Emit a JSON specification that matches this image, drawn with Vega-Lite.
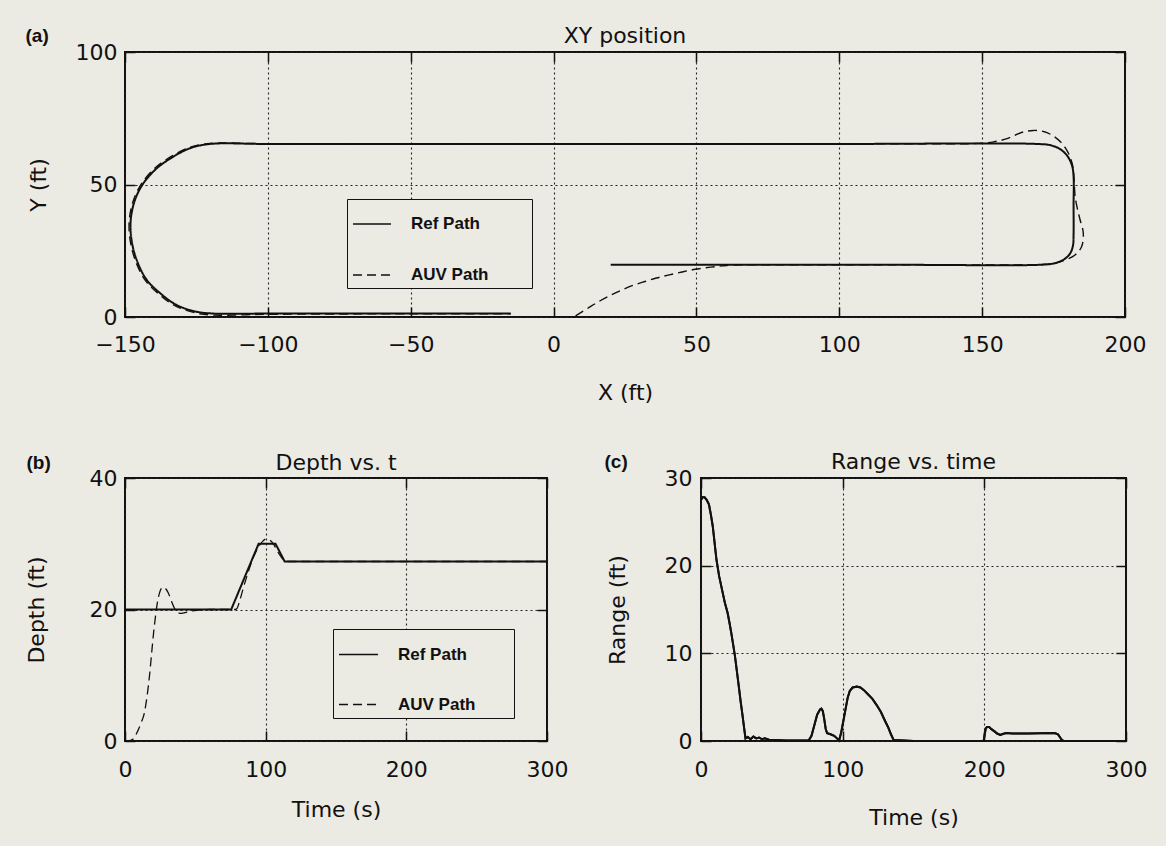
{
  "$schema": "https://vega.github.io/schema/vega-lite/v6.json",
  "autosize": {"type": "none"},
  "padding": {"left": 125, "top": 52, "right": 1041, "bottom": 794},
  "background": "#ebeae3",
  "datasets": {
    "xy": [
      {"series": "Ref Path", "i": 1, "x": 20, "y": 19.7},
      {"series": "Ref Path", "i": 2, "x": 60, "y": 19.7},
      {"series": "Ref Path", "i": 3, "x": 120, "y": 19.7},
      {"series": "Ref Path", "i": 4, "x": 170, "y": 19.7},
      {"series": "Ref Path", "i": 5, "x": 175, "y": 20.2},
      {"series": "Ref Path", "i": 6, "x": 178.6, "y": 21.7},
      {"series": "Ref Path", "i": 7, "x": 180.8, "y": 24},
      {"series": "Ref Path", "i": 8, "x": 181.8, "y": 27},
      {"series": "Ref Path", "i": 9, "x": 182, "y": 31},
      {"series": "Ref Path", "i": 10, "x": 182, "y": 42},
      {"series": "Ref Path", "i": 11, "x": 182, "y": 53},
      {"series": "Ref Path", "i": 12, "x": 181.5, "y": 57},
      {"series": "Ref Path", "i": 13, "x": 180, "y": 60.5},
      {"series": "Ref Path", "i": 14, "x": 177.5, "y": 63.2},
      {"series": "Ref Path", "i": 15, "x": 174, "y": 64.8},
      {"series": "Ref Path", "i": 16, "x": 169, "y": 65.3},
      {"series": "Ref Path", "i": 17, "x": 100, "y": 65.3},
      {"series": "Ref Path", "i": 18, "x": 0, "y": 65.3},
      {"series": "Ref Path", "i": 19, "x": -100, "y": 65.3},
      {"series": "Ref Path", "i": 20, "x": -120.2, "y": 65.3},
      {"series": "Ref Path", "i": 21, "x": -127.2, "y": 63.7},
      {"series": "Ref Path", "i": 22, "x": -133.1, "y": 60.5},
      {"series": "Ref Path", "i": 23, "x": -139, "y": 56},
      {"series": "Ref Path", "i": 24, "x": -143.6, "y": 50.4},
      {"series": "Ref Path", "i": 25, "x": -146.5, "y": 44.2},
      {"series": "Ref Path", "i": 26, "x": -148, "y": 36.6},
      {"series": "Ref Path", "i": 27, "x": -147.7, "y": 29},
      {"series": "Ref Path", "i": 28, "x": -145.9, "y": 21.5},
      {"series": "Ref Path", "i": 29, "x": -142.4, "y": 14},
      {"series": "Ref Path", "i": 30, "x": -137.7, "y": 9},
      {"series": "Ref Path", "i": 31, "x": -131.9, "y": 4.5},
      {"series": "Ref Path", "i": 32, "x": -125, "y": 2},
      {"series": "Ref Path", "i": 33, "x": -119, "y": 1.3},
      {"series": "Ref Path", "i": 34, "x": -100, "y": 1.3},
      {"series": "Ref Path", "i": 35, "x": -50, "y": 1.3},
      {"series": "Ref Path", "i": 36, "x": -15, "y": 1.3},
      {"series": "AUV Path", "i": 1, "x": 7.7, "y": 0.4},
      {"series": "AUV Path", "i": 2, "x": 12, "y": 3.3},
      {"series": "AUV Path", "i": 3, "x": 15.8, "y": 5.8},
      {"series": "AUV Path", "i": 4, "x": 20, "y": 8.2},
      {"series": "AUV Path", "i": 5, "x": 23.9, "y": 10.2},
      {"series": "AUV Path", "i": 6, "x": 28, "y": 12},
      {"series": "AUV Path", "i": 7, "x": 32, "y": 13.4},
      {"series": "AUV Path", "i": 8, "x": 36, "y": 14.7},
      {"series": "AUV Path", "i": 9, "x": 40.1, "y": 15.8},
      {"series": "AUV Path", "i": 10, "x": 45, "y": 17},
      {"series": "AUV Path", "i": 11, "x": 49.6, "y": 18},
      {"series": "AUV Path", "i": 12, "x": 55, "y": 18.8},
      {"series": "AUV Path", "i": 13, "x": 59.1, "y": 19.3},
      {"series": "AUV Path", "i": 14, "x": 62.5, "y": 19.6},
      {"series": "AUV Path", "i": 15, "x": 70, "y": 19.7},
      {"series": "AUV Path", "i": 16, "x": 120, "y": 19.7},
      {"series": "AUV Path", "i": 17, "x": 165, "y": 19.7},
      {"series": "AUV Path", "i": 18, "x": 170, "y": 19.8},
      {"series": "AUV Path", "i": 19, "x": 174.4, "y": 20.1},
      {"series": "AUV Path", "i": 20, "x": 178.3, "y": 21.2},
      {"series": "AUV Path", "i": 21, "x": 182.5, "y": 23.4},
      {"series": "AUV Path", "i": 22, "x": 184.8, "y": 26.5},
      {"series": "AUV Path", "i": 23, "x": 185.4, "y": 31.7},
      {"series": "AUV Path", "i": 24, "x": 184.3, "y": 36.6},
      {"series": "AUV Path", "i": 25, "x": 183.3, "y": 41},
      {"series": "AUV Path", "i": 26, "x": 182.6, "y": 45},
      {"series": "AUV Path", "i": 27, "x": 182.3, "y": 49},
      {"series": "AUV Path", "i": 28, "x": 182.1, "y": 53},
      {"series": "AUV Path", "i": 29, "x": 181.8, "y": 56.6},
      {"series": "AUV Path", "i": 30, "x": 180.9, "y": 60},
      {"series": "AUV Path", "i": 31, "x": 179.6, "y": 63},
      {"series": "AUV Path", "i": 32, "x": 177.5, "y": 66},
      {"series": "AUV Path", "i": 33, "x": 174.8, "y": 68.4},
      {"series": "AUV Path", "i": 34, "x": 171.5, "y": 70},
      {"series": "AUV Path", "i": 35, "x": 168, "y": 70.4},
      {"series": "AUV Path", "i": 36, "x": 164, "y": 69.7},
      {"series": "AUV Path", "i": 37, "x": 158.7, "y": 67.3},
      {"series": "AUV Path", "i": 38, "x": 154, "y": 66.1},
      {"series": "AUV Path", "i": 39, "x": 150, "y": 65.6},
      {"series": "AUV Path", "i": 40, "x": 145, "y": 65.4},
      {"series": "AUV Path", "i": 41, "x": 100, "y": 65.4},
      {"series": "AUV Path", "i": 42, "x": 0, "y": 65.4},
      {"series": "AUV Path", "i": 43, "x": -100, "y": 65.4},
      {"series": "AUV Path", "i": 44, "x": -120.2, "y": 65.5},
      {"series": "AUV Path", "i": 45, "x": -127.4, "y": 64},
      {"series": "AUV Path", "i": 46, "x": -133.5, "y": 60.8},
      {"series": "AUV Path", "i": 47, "x": -139.5, "y": 56.2},
      {"series": "AUV Path", "i": 48, "x": -144.1, "y": 50.5},
      {"series": "AUV Path", "i": 49, "x": -147, "y": 44.2},
      {"series": "AUV Path", "i": 50, "x": -148.5, "y": 36.6},
      {"series": "AUV Path", "i": 51, "x": -148.2, "y": 29},
      {"series": "AUV Path", "i": 52, "x": -146.4, "y": 21.4},
      {"series": "AUV Path", "i": 53, "x": -142.9, "y": 13.8},
      {"series": "AUV Path", "i": 54, "x": -138.1, "y": 8.6},
      {"series": "AUV Path", "i": 55, "x": -132.2, "y": 4.1},
      {"series": "AUV Path", "i": 56, "x": -125.2, "y": 1.5},
      {"series": "AUV Path", "i": 57, "x": -119, "y": 0.7},
      {"series": "AUV Path", "i": 58, "x": -110, "y": 0.8},
      {"series": "AUV Path", "i": 59, "x": -100, "y": 1.0},
      {"series": "AUV Path", "i": 60, "x": -50, "y": 1.2},
      {"series": "AUV Path", "i": 61, "x": -15, "y": 1.2}
    ],
    "depth": [
      {"series": "Ref Path", "t": 0, "d": 20},
      {"series": "Ref Path", "t": 75.5, "d": 20},
      {"series": "Ref Path", "t": 95, "d": 30},
      {"series": "Ref Path", "t": 107, "d": 30},
      {"series": "Ref Path", "t": 113.5, "d": 27.3},
      {"series": "Ref Path", "t": 300, "d": 27.3},
      {"series": "AUV Path", "t": 0, "d": 0},
      {"series": "AUV Path", "t": 3, "d": 0.05},
      {"series": "AUV Path", "t": 5.8, "d": 0.3},
      {"series": "AUV Path", "t": 9, "d": 1.5},
      {"series": "AUV Path", "t": 11.5, "d": 2.8},
      {"series": "AUV Path", "t": 13.7, "d": 4.2},
      {"series": "AUV Path", "t": 15.8, "d": 7},
      {"series": "AUV Path", "t": 17.6, "d": 10.3},
      {"series": "AUV Path", "t": 19, "d": 13.5},
      {"series": "AUV Path", "t": 20.3, "d": 16.4},
      {"series": "AUV Path", "t": 21.7, "d": 19},
      {"series": "AUV Path", "t": 22.9, "d": 20.9},
      {"series": "AUV Path", "t": 24.5, "d": 22.5},
      {"series": "AUV Path", "t": 26.9, "d": 23.4},
      {"series": "AUV Path", "t": 28.8, "d": 23.2},
      {"series": "AUV Path", "t": 30.8, "d": 22.5},
      {"series": "AUV Path", "t": 32.8, "d": 21.4},
      {"series": "AUV Path", "t": 34.7, "d": 20.4},
      {"series": "AUV Path", "t": 37, "d": 19.6},
      {"series": "AUV Path", "t": 40, "d": 19.4},
      {"series": "AUV Path", "t": 44, "d": 19.6},
      {"series": "AUV Path", "t": 47.9, "d": 19.8},
      {"series": "AUV Path", "t": 60, "d": 20},
      {"series": "AUV Path", "t": 78, "d": 20},
      {"series": "AUV Path", "t": 79.4, "d": 20.1},
      {"series": "AUV Path", "t": 81.5, "d": 21.3},
      {"series": "AUV Path", "t": 84, "d": 23.2},
      {"series": "AUV Path", "t": 87.3, "d": 25.5},
      {"series": "AUV Path", "t": 91, "d": 27.8},
      {"series": "AUV Path", "t": 95.2, "d": 29.6},
      {"series": "AUV Path", "t": 98, "d": 30.4},
      {"series": "AUV Path", "t": 100, "d": 30.7},
      {"series": "AUV Path", "t": 102.5, "d": 30.6},
      {"series": "AUV Path", "t": 105.7, "d": 29.9},
      {"series": "AUV Path", "t": 108.5, "d": 28.8},
      {"series": "AUV Path", "t": 111, "d": 28},
      {"series": "AUV Path", "t": 113, "d": 27.5},
      {"series": "AUV Path", "t": 115, "d": 27.3},
      {"series": "AUV Path", "t": 300, "d": 27.3}
    ],
    "range": [
      {"t": 0, "r": 27.5}, {"t": 1.1, "r": 27.8}, {"t": 2.5, "r": 27.8}, {"t": 4, "r": 27.5},
      {"t": 5.6, "r": 27}, {"t": 7, "r": 25.8}, {"t": 8.3, "r": 24.5}, {"t": 9.6, "r": 22.6},
      {"t": 10.9, "r": 20.7}, {"t": 12.8, "r": 18.8}, {"t": 14.8, "r": 17.3}, {"t": 16.8, "r": 15.8},
      {"t": 18.8, "r": 14.6}, {"t": 20.2, "r": 13.4}, {"t": 21.4, "r": 12.3}, {"t": 22.7, "r": 11},
      {"t": 24, "r": 9.65}, {"t": 25.3, "r": 8}, {"t": 26.7, "r": 6.2}, {"t": 28, "r": 4.5},
      {"t": 29.4, "r": 2.8}, {"t": 30.5, "r": 1.4}, {"t": 31.4, "r": 0.3}, {"t": 33, "r": 0.45},
      {"t": 35, "r": 0.2}, {"t": 37, "r": 0.5}, {"t": 39, "r": 0.3}, {"t": 41, "r": 0.4},
      {"t": 43, "r": 0.2}, {"t": 45, "r": 0.3}, {"t": 48, "r": 0.15}, {"t": 52, "r": 0.1},
      {"t": 60, "r": 0.05}, {"t": 76, "r": 0.05}, {"t": 78, "r": 0.6}, {"t": 80, "r": 1.8},
      {"t": 82, "r": 3}, {"t": 84, "r": 3.6}, {"t": 85, "r": 3.7}, {"t": 86, "r": 3.4},
      {"t": 87, "r": 2.5}, {"t": 88, "r": 1.4}, {"t": 89, "r": 0.9}, {"t": 91, "r": 0.8},
      {"t": 94, "r": 0.6}, {"t": 96, "r": 0.3}, {"t": 97.5, "r": 0.05}, {"t": 99, "r": 1},
      {"t": 100.5, "r": 2.3}, {"t": 102, "r": 3.6}, {"t": 103.5, "r": 4.9}, {"t": 105, "r": 5.7},
      {"t": 107, "r": 6.1}, {"t": 110, "r": 6.2}, {"t": 112.5, "r": 6.1}, {"t": 115, "r": 5.8},
      {"t": 118, "r": 5.3}, {"t": 121, "r": 4.8}, {"t": 124, "r": 4.1}, {"t": 127, "r": 3.3},
      {"t": 129.6, "r": 2.4}, {"t": 132, "r": 1.6}, {"t": 134, "r": 0.8}, {"t": 136, "r": 0.1},
      {"t": 150, "r": 0}, {"t": 199.5, "r": 0}, {"t": 200, "r": 0.5}, {"t": 201, "r": 1.45},
      {"t": 202, "r": 1.6}, {"t": 203.4, "r": 1.6}, {"t": 205, "r": 1.35}, {"t": 207.4, "r": 1.07},
      {"t": 209, "r": 0.85}, {"t": 211.3, "r": 0.7}, {"t": 213, "r": 0.8}, {"t": 215.3, "r": 0.9},
      {"t": 220, "r": 0.85}, {"t": 225, "r": 0.85}, {"t": 231, "r": 0.85}, {"t": 240, "r": 0.88},
      {"t": 249.6, "r": 0.9}, {"t": 252, "r": 0.75}, {"t": 253.5, "r": 0.4}, {"t": 254.8, "r": 0.1},
      {"t": 256, "r": 0}, {"t": 300, "r": 0}
    ]
  },
  "vconcat": [
    {
      "width": 1000,
      "height": 265,
      "title": {"text": "XY position"},
      "data": {"name": "xy"},
      "layer": [
        {
          "transform": [{"filter": "datum.series === 'Ref Path'"}],
          "mark": {"type": "line", "color": "#111", "strokeWidth": 2, "interpolate": "catmull-rom"},
          "encoding": {
            "x": {"field": "x", "type": "quantitative", "scale": {"domain": [-150, 200], "nice": false, "zero": false},
                  "axis": {"values": [-150, -100, -50, 0, 50, 100, 150, 200], "title": "X (ft)", "labelPadding": 27, "titlePadding": 27}},
            "y": {"field": "y", "type": "quantitative", "scale": {"domain": [0, 100], "nice": false, "zero": false},
                  "axis": {"values": [0, 50, 100], "title": "Y (ft)", "labelPadding": 18, "titlePadding": 25}},
            "order": {"field": "i", "type": "quantitative"},
            "strokeDash": {"field": "series", "type": "nominal",
                           "scale": {"domain": ["Ref Path", "AUV Path"], "range": [[1, 0], [9, 5]]},
                           "legend": {"orient": "none", "legendX": 222, "legendY": 147, "title": null,
                                      "symbolSize": 1444, "rowPadding": 23, "padding": 5,
                                      "labelExpr": "datum.label + '\u00a0\u00a0\u00a0\u00a0\u00a0\u00a0\u00a0\u00a0\u200b'"}}
          }
        },
        {
          "transform": [{"filter": "datum.series === 'AUV Path'"}],
          "mark": {"type": "line", "color": "#111", "strokeWidth": 1.4, "interpolate": "catmull-rom"},
          "encoding": {
            "x": {"field": "x", "type": "quantitative",
                  "axis": {"orient": "top", "values": [-150, -100, -50, 0, 50, 100, 150, 200], "labels": false, "grid": false,
                           "title": "(a)", "titleX": -100, "titleY": -17, "titleAlign": "left", "titleBaseline": "middle",
                           "titleAngle": 0, "titleFont": "Liberation Sans", "titleFontWeight": "bold", "titleFontSize": 19}},
            "y": {"field": "y", "type": "quantitative",
                  "axis": {"orient": "right", "values": [0, 50, 100], "labels": false, "grid": false, "title": null}},
            "order": {"field": "i", "type": "quantitative"},
            "strokeDash": {"field": "series", "type": "nominal"}
          }
        }
      ],
      "resolve": {"axis": {"x": "independent", "y": "independent"}}
    },
    {
      "hconcat": [
        {
          "width": 422,
          "height": 263,
          "title": {"text": "Depth vs. t"},
          "data": {"name": "depth"},
          "layer": [
            {
              "transform": [{"filter": "datum.series === 'Ref Path'"}],
              "mark": {"type": "line", "color": "#111", "strokeWidth": 2},
              "encoding": {
                "x": {"field": "t", "type": "quantitative", "scale": {"domain": [0, 300], "nice": false, "zero": false},
                      "axis": {"values": [0, 100, 200, 300], "title": "Time (s)", "labelPadding": 28, "titlePadding": 19}},
                "y": {"field": "d", "type": "quantitative", "scale": {"domain": [0, 40], "nice": false, "zero": false},
                      "axis": {"values": [0, 20, 40], "title": "Depth (ft)", "labelPadding": 18, "titlePadding": 41}},
                "strokeDash": {"field": "series", "type": "nominal",
                               "scale": {"domain": ["Ref Path", "AUV Path"], "range": [[1, 0], [9, 5]]},
                               "legend": {"orient": "none", "legendX": 208, "legendY": 151, "title": null,
                                          "symbolSize": 1521, "rowPadding": 21, "padding": 5,
                                          "labelExpr": "datum.label + '\u00a0\u00a0\u00a0\u00a0\u00a0\u00a0\u00a0\u200b'"}}
              }
            },
            {
              "transform": [{"filter": "datum.series === 'AUV Path'"}],
              "mark": {"type": "line", "color": "#111", "strokeWidth": 1.3, "interpolate": "monotone"},
              "encoding": {
                "x": {"field": "t", "type": "quantitative",
                      "axis": {"orient": "top", "values": [0, 100, 200, 300], "labels": false, "grid": false,
                               "title": "(b)", "titleX": -99, "titleY": -16, "titleAlign": "left", "titleBaseline": "middle",
                               "titleAngle": 0, "titleFont": "Liberation Sans", "titleFontWeight": "bold", "titleFontSize": 19}},
                "y": {"field": "d", "type": "quantitative",
                      "axis": {"orient": "right", "values": [0, 20, 40], "labels": false, "grid": false, "title": null}},
                "strokeDash": {"field": "series", "type": "nominal"}
              }
            }
          ],
          "resolve": {"axis": {"x": "independent", "y": "independent"}}
        },
        {
          "width": 425,
          "height": 263,
          "title": {"text": "Range vs. time"},
          "data": {"name": "range"},
          "layer": [
            {
              "mark": {"type": "line", "color": "#111", "strokeWidth": 2},
              "encoding": {
                "x": {"field": "t", "type": "quantitative", "scale": {"domain": [0, 300], "nice": false, "zero": false},
                      "axis": {"values": [0, 100, 200, 300], "title": "Time (s)", "labelPadding": 28, "titlePadding": 27}},
                "y": {"field": "r", "type": "quantitative", "scale": {"domain": [0, 30], "nice": false, "zero": false},
                      "axis": {"values": [0, 10, 20, 30], "title": "Range (ft)", "labelPadding": 19, "titlePadding": 35}}
              }
            },
            {
              "mark": {"type": "line", "color": "#111", "strokeWidth": 2},
              "encoding": {
                "x": {"field": "t", "type": "quantitative",
                      "axis": {"orient": "top", "values": [0, 100, 200, 300], "labels": false, "grid": false,
                               "title": "(c)", "titleX": -97, "titleY": -17, "titleAlign": "left", "titleBaseline": "middle",
                               "titleAngle": 0, "titleFont": "Liberation Sans", "titleFontWeight": "bold", "titleFontSize": 19}},
                "y": {"field": "r", "type": "quantitative",
                      "axis": {"orient": "right", "values": [0, 10, 20, 30], "labels": false, "grid": false, "title": null}}
              }
            }
          ],
          "resolve": {"axis": {"x": "independent", "y": "independent"}}
        }
      ],
      "spacing": 154,
      "bounds": "flush",
      "resolve": {"scale": {"strokeDash": "independent"}, "legend": {"strokeDash": "independent"}}
    }
  ],
  "spacing": 161,
  "bounds": "flush",
  "resolve": {"scale": {"strokeDash": "independent"}, "legend": {"strokeDash": "independent"}},
  "config": {
    "view": {"stroke": "#111", "strokeWidth": 2},
    "axis": {
      "labelFont": "DejaVu Sans", "labelFontSize": 22, "labelColor": "#111",
      "labelFlush": false, "labelOverlap": false, "labelBound": false,
      "titleFont": "DejaVu Sans", "titleFontSize": 22, "titleFontWeight": "normal", "titleColor": "#111",
      "gridColor": "#222", "gridDash": [2, 3], "gridOpacity": 1, "gridWidth": 1.1,
      "tickColor": "#111", "tickSize": -10, "tickWidth": 1.5, "domain": false
    },
    "title": {"font": "DejaVu Sans", "fontSize": 22, "fontWeight": "normal", "color": "#111", "frame": "group", "offset": 4, "dy": 26},
    "legend": {
      "labelFont": "Liberation Sans", "labelFontSize": 17, "labelFontWeight": "bold", "labelColor": "#111",
      "labelOffset": 19, "symbolType": "stroke", "symbolStrokeWidth": 1.3, "symbolStrokeColor": "#111",
      "strokeColor": "#111", "fillColor": "#ebeae3"
    }
  }
}
